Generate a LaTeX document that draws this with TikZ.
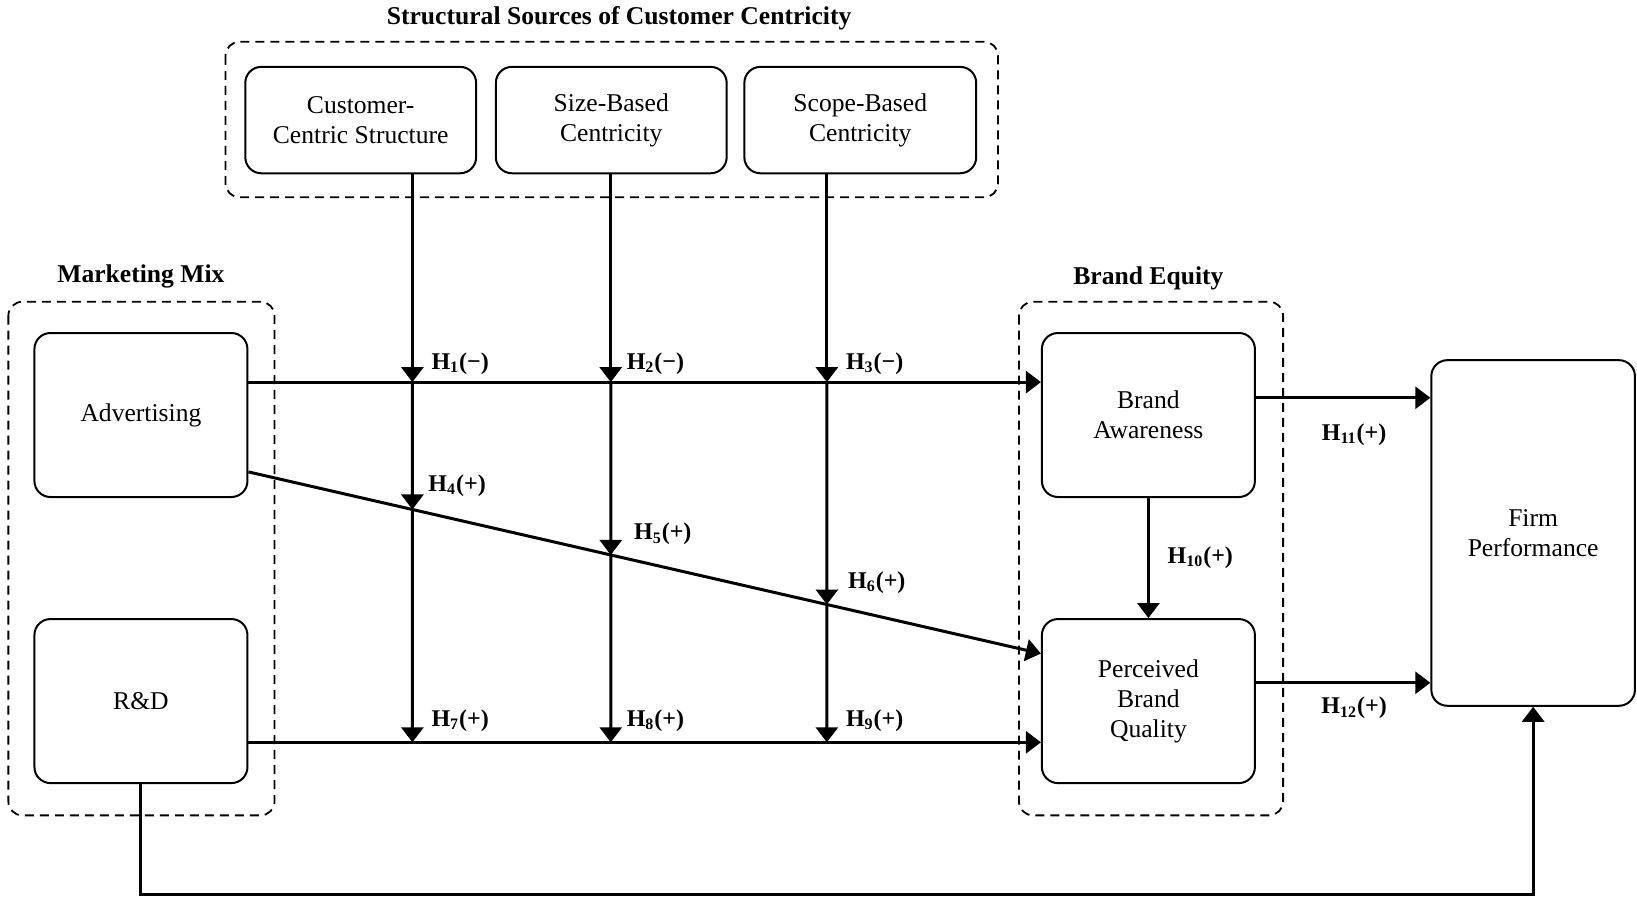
\documentclass[tikz,border=0pt]{standalone}
\usepackage{fontspec}
\setmainfont{Liberation Serif}
\usetikzlibrary{arrows.meta,calc,intersections}

\begin{document}
\begin{tikzpicture}[
		x=0.522pt, y=-0.522pt,
		box/.style={draw, line width=1pt, rounded corners=8pt, align=center,
			inner sep=0pt, font=\fontsize{12.8pt}{15pt}\selectfont},
		group/.style={draw, line width=0.9pt, dash pattern=on 4.5pt off 3pt, rounded corners=7pt},
		title/.style={font=\bfseries\fontsize{12.8pt}{15pt}\selectfont},
		hyp/.style={font=\bfseries\fontsize{12pt}{14pt}\selectfont, inner sep=0pt},
		conn/.style={line width=1.5pt, -{Triangle[length=7.5pt,width=11pt]}}
	]
	\useasboundingbox (0,0) rectangle (1568,861);

	% dashed groups
	\draw[group] (216,40) rectangle (956,189);
	\draw[group] (8,289) rectangle (263,781);
	\draw[group] (976,289) rectangle (1229,781);
	\node[title] (sstitle) at (593,17) {Structural Sources of Customer Centricity};
	\node[title] (mmtitle) at (135,265) {Marketing Mix};
	\node[title] (betitle) at (1100,267) {Brand Equity};

	% boxes
	\node[box, minimum width=115.4pt, minimum height=53.2pt] (ccs) at (345.5,115) {Customer-\\Centric Structure};
	\node[box, minimum width=115.4pt, minimum height=53.2pt] (sbc) at (585.5,115) {Size-Based\\Centricity};
	\node[box, minimum width=115.9pt, minimum height=53.2pt] (spc) at (824,115) {Scope-Based\\Centricity};
	\node[box, minimum width=106.5pt, minimum height=82pt] (adv) at (135,397.5) {Advertising};
	\node[box, minimum width=106.5pt, minimum height=82pt] (rnd) at (135,671.5) {R\&D};
	\node[box, minimum width=106.5pt, minimum height=82pt] (ba) at (1100,397.5) {Brand\\Awareness};
	\node[box, minimum width=106.5pt, minimum height=82pt] (pbq) at (1100,671.5) {Perceived\\Brand\\Quality};
	\node[box, minimum width=101.8pt, minimum height=172.8pt] (fp) at (1468.5,510.5) {Firm\\Performance};

	% marketing mix -> brand equity
	\coordinate (d1) at (adv.east |- 0,452);
	\coordinate (d2) at (pbq.west |- 0,626);
	\draw[conn] (adv.east |- 0,366) -- (ba.west |- 0,366);
	\draw[conn] (d1) -- (d2);
	\draw[conn] (rnd.east |- 0,711) -- (pbq.west |- 0,711);

	% moderating paths
	\path[name path=diag] (d1) -- (d2);
	\path[name path=v1] (395,166) -- (395,711);
	\path[name path=v2] (585,166) -- (585,711);
	\path[name path=v3] (792,166) -- (792,711);
	\path[name intersections={of=diag and v1, by=j1}];
	\path[name intersections={of=diag and v2, by=j2}];
	\path[name intersections={of=diag and v3, by=j3}];
	\coordinate (i1) at (395,366);
	\coordinate (i2) at (585,366);
	\coordinate (i3) at (792,366);
	\coordinate (k1) at (395,711);
	\coordinate (k2) at (585,711);
	\coordinate (k3) at (792,711);

	\draw[conn] (ccs.south -| i1) -- (i1);
	\draw[conn] (i1) -- (j1);
	\draw[conn] (j1) -- (k1);
	\draw[conn] (sbc.south -| i2) -- (i2);
	\draw[conn] (i2) -- (j2);
	\draw[conn] (j2) -- (k2);
	\draw[conn] (spc.south -| i3) -- (i3);
	\draw[conn] (i3) -- (j3);
	\draw[conn] (j3) -- (k3);

	% brand equity -> performance
	\draw[conn] (ba) -- (pbq);
	\draw[conn] (ba.east |- 0,381) -- (fp.west |- 0,381);
	\draw[conn] (pbq.east |- 0,654) -- (fp.west |- 0,654);
	\draw[conn] (rnd.south) -- (rnd.south |- 0,857) -| (fp.south);

	% hypotheses
	\node[hyp, anchor=west] (h1) at ($(i1)+(18,-18)$) {H\textsubscript{1}(−)};
	\node[hyp, anchor=west] (h2) at ($(i2)+(15,-18)$) {H\textsubscript{2}(−)};
	\node[hyp, anchor=west] (h3) at ($(i3)+(18,-18)$) {H\textsubscript{3}(−)};
	\node[hyp, anchor=west] (h4) at ($(j1)+(15,-23)$) {H\textsubscript{4}(+)};
	\node[hyp, anchor=west] (h5) at ($(j2)+(22,-20)$) {H\textsubscript{5}(+)};
	\node[hyp, anchor=west] (h6) at ($(j3)+(20,-21)$) {H\textsubscript{6}(+)};
	\node[hyp, anchor=west] (h7) at ($(k1)+(18,-21)$) {H\textsubscript{7}(+)};
	\node[hyp, anchor=west] (h8) at ($(k2)+(15,-21)$) {H\textsubscript{8}(+)};
	\node[hyp, anchor=west] (h9) at ($(k3)+(18,-21)$) {H\textsubscript{9}(+)};
	\node[hyp, anchor=west] (h10) at (1118,534) {H\textsubscript{10}(+)};
	\node[hyp] (h11) at (1297,416) {H\textsubscript{11}(+)};
	\node[hyp] (h12) at (1297,678) {H\textsubscript{12}(+)};
\end{tikzpicture}
\end{document}
